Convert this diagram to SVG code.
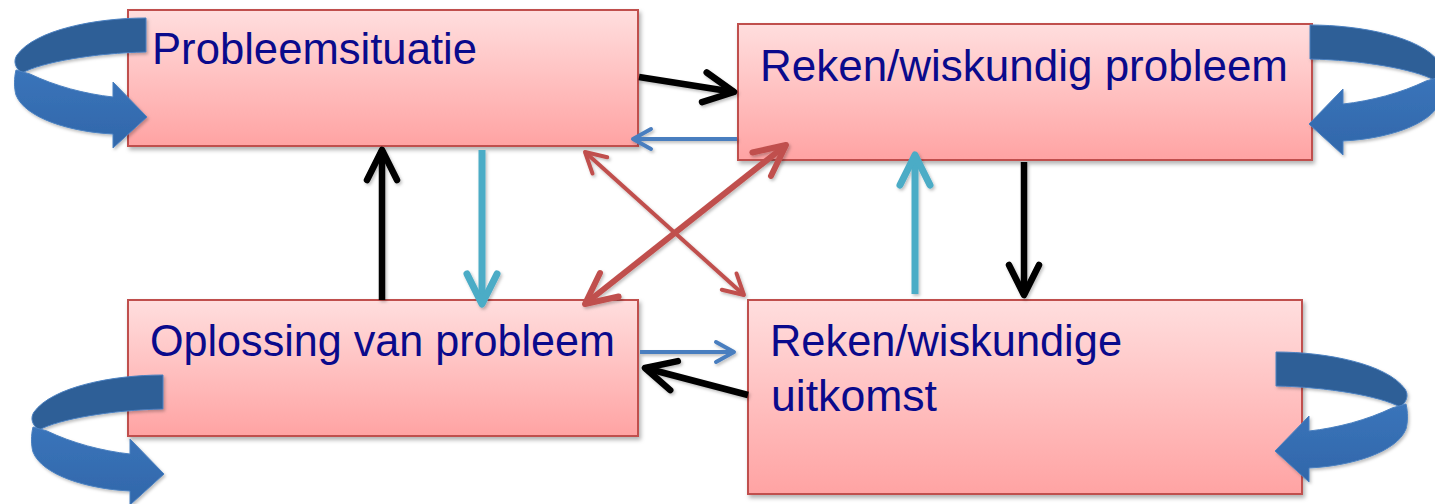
<svg xmlns="http://www.w3.org/2000/svg" width="1435" height="504" viewBox="0 0 1435 504">
  <defs>
    <linearGradient id="boxfill" x1="0" y1="0" x2="0" y2="1">
      <stop offset="0" stop-color="#ffdede"/>
      <stop offset="1" stop-color="#ffa3a3"/>
    </linearGradient>
    <linearGradient id="frontfill" x1="0" y1="0" x2="0" y2="1">
      <stop offset="0" stop-color="#3a74ba"/>
      <stop offset="1" stop-color="#3167aa"/>
    </linearGradient>
    <filter id="shadow" x="-10%" y="-10%" width="130%" height="140%">
      <feDropShadow dx="2" dy="3" stdDeviation="2" flood-color="#000" flood-opacity="0.3"/>
    </filter>
    <filter id="lshadow" x="-20%" y="-20%" width="140%" height="140%">
      <feDropShadow dx="1.5" dy="2" stdDeviation="1.5" flood-color="#000" flood-opacity="0.25"/>
    </filter>
    <marker id="mk-black" viewBox="-40 -22 46 44" markerWidth="46" markerHeight="44" refX="0" refY="0" orient="auto-start-reverse" markerUnits="userSpaceOnUse">
      <path d="M-30,-15 L0,0 L-30,15" fill="none" stroke="#000000" stroke-width="6.5" stroke-linecap="round" stroke-linejoin="round"/>
    </marker>
    <marker id="mk-cyan" viewBox="-40 -22 46 44" markerWidth="46" markerHeight="44" refX="0" refY="0" orient="auto-start-reverse" markerUnits="userSpaceOnUse">
      <path d="M-30,-15 L0,0 L-30,15" fill="none" stroke="#4bacc6" stroke-width="7" stroke-linecap="round" stroke-linejoin="round"/>
    </marker>
    <marker id="mk-blue" viewBox="-26 -16 32 32" markerWidth="32" markerHeight="32" refX="0" refY="0" orient="auto-start-reverse" markerUnits="userSpaceOnUse">
      <path d="M-18,-10 L0,0 L-18,10" fill="none" stroke="#4a7ebf" stroke-width="4" stroke-linecap="round" stroke-linejoin="round"/>
    </marker>
    <marker id="mk-redthin" viewBox="-28 -16 34 32" markerWidth="34" markerHeight="32" refX="0" refY="0" orient="auto-start-reverse" markerUnits="userSpaceOnUse">
      <path d="M-20,-11 L0,0 L-20,11" fill="none" stroke="#c0504d" stroke-width="4" stroke-linecap="round" stroke-linejoin="round"/>
    </marker>
    <marker id="mk-redthick" viewBox="-40 -22 46 44" markerWidth="46" markerHeight="44" refX="0" refY="0" orient="auto-start-reverse" markerUnits="userSpaceOnUse">
      <path d="M-31,-15 L0,0 L-31,15" fill="none" stroke="#c0504d" stroke-width="6" stroke-linecap="round" stroke-linejoin="round"/>
    </marker>
    <g id="loop">
      <path class="back" d="M146,18 C95,18 35,30 17,55 C13,61 15,68 22,73 C42,62 95,53 146,52 Z"/>
      <path class="front" d="M30,74 C55,86 85,94 113,97 L113,82 L147,117 L113,148 L113,134 C70,132 25,118 16,95 C14,88 14,78 16,70 Z"/>
    </g>
  </defs>
  <style>
    .box { fill: url(#boxfill); stroke: #c0504d; stroke-width: 2; filter: url(#shadow); }
    .label { font-family: "Liberation Sans", Arial, sans-serif; font-size: 44px; fill: #0a0a8c; }
    .back { fill: #2e5e97; stroke: #4a80c0; stroke-width: 1; }
    .front { fill: url(#frontfill); stroke: #4a80c0; stroke-width: 1; }
    .loopg { filter: url(#lshadow); }
    .c { fill: none; stroke-linecap: butt; }
    .k { stroke: #000000; stroke-width: 6.5; marker-end: url(#mk-black); }
    .cy { stroke: #4bacc6; stroke-width: 7; marker-end: url(#mk-cyan); }
    .bl { stroke: #4a7ebf; stroke-width: 4; marker-end: url(#mk-blue); }
    .rt { stroke: #c0504d; stroke-width: 4; marker-start: url(#mk-redthin); marker-end: url(#mk-redthin); }
    .rk { stroke: #c0504d; stroke-width: 6; marker-start: url(#mk-redthick); marker-end: url(#mk-redthick); }
  </style>
  <rect width="1435" height="504" fill="#ffffff"/>

  <g id="node-probleemsituatie">
    <rect class="box" x="128" y="10" width="510" height="136"/>
    <g class="loopg"><use href="#loop"/></g>
    <text class="label" x="152" y="64" textLength="325" lengthAdjust="spacingAndGlyphs">Probleemsituatie</text>
  </g>

  <g id="node-reken-probleem">
    <rect class="box" x="738" y="24" width="574" height="136"/>
    <g class="loopg"><use href="#loop" transform="translate(1456,7) scale(-1,1)"/></g>
    <text class="label" x="760" y="81" textLength="528" lengthAdjust="spacingAndGlyphs">Reken/wiskundig probleem</text>
  </g>

  <g id="node-oplossing">
    <rect class="box" x="128" y="300" width="510" height="136"/>
    <g class="loopg"><use href="#loop" transform="translate(17,357)"/></g>
    <text class="label" x="150" y="356" textLength="465" lengthAdjust="spacingAndGlyphs">Oplossing van probleem</text>
  </g>

  <g id="node-reken-uitkomst">
    <rect class="box" x="748" y="300" width="554" height="194"/>
    <g class="loopg"><use href="#loop" transform="translate(1422,334) scale(-1,1)"/></g>
    <text class="label" x="770" y="356" textLength="352" lengthAdjust="spacingAndGlyphs">Reken/wiskundige</text>
    <text class="label" x="771" y="411" textLength="166" lengthAdjust="spacingAndGlyphs">uitkomst</text>
  </g>

  <g id="connectors" filter="url(#lshadow)">
    <path class="c k" d="M639,77 L734,92"/>
    <path class="c bl" d="M737,139 L633,139"/>
    <path class="c rt" d="M585,152 L744,295"/>
    <path class="c rk" d="M585,304 L786,145"/>
    <path class="c k" d="M382,300 L382,150"/>
    <path class="c cy" d="M482,150 L482,304"/>
    <path class="c cy" d="M915,294 L915,155"/>
    <path class="c k" d="M1024,162 L1024,295"/>
    <path class="c bl" d="M640,352 L734,352"/>
    <path class="c k" d="M748,395 L645,368"/>
  </g>
</svg>
